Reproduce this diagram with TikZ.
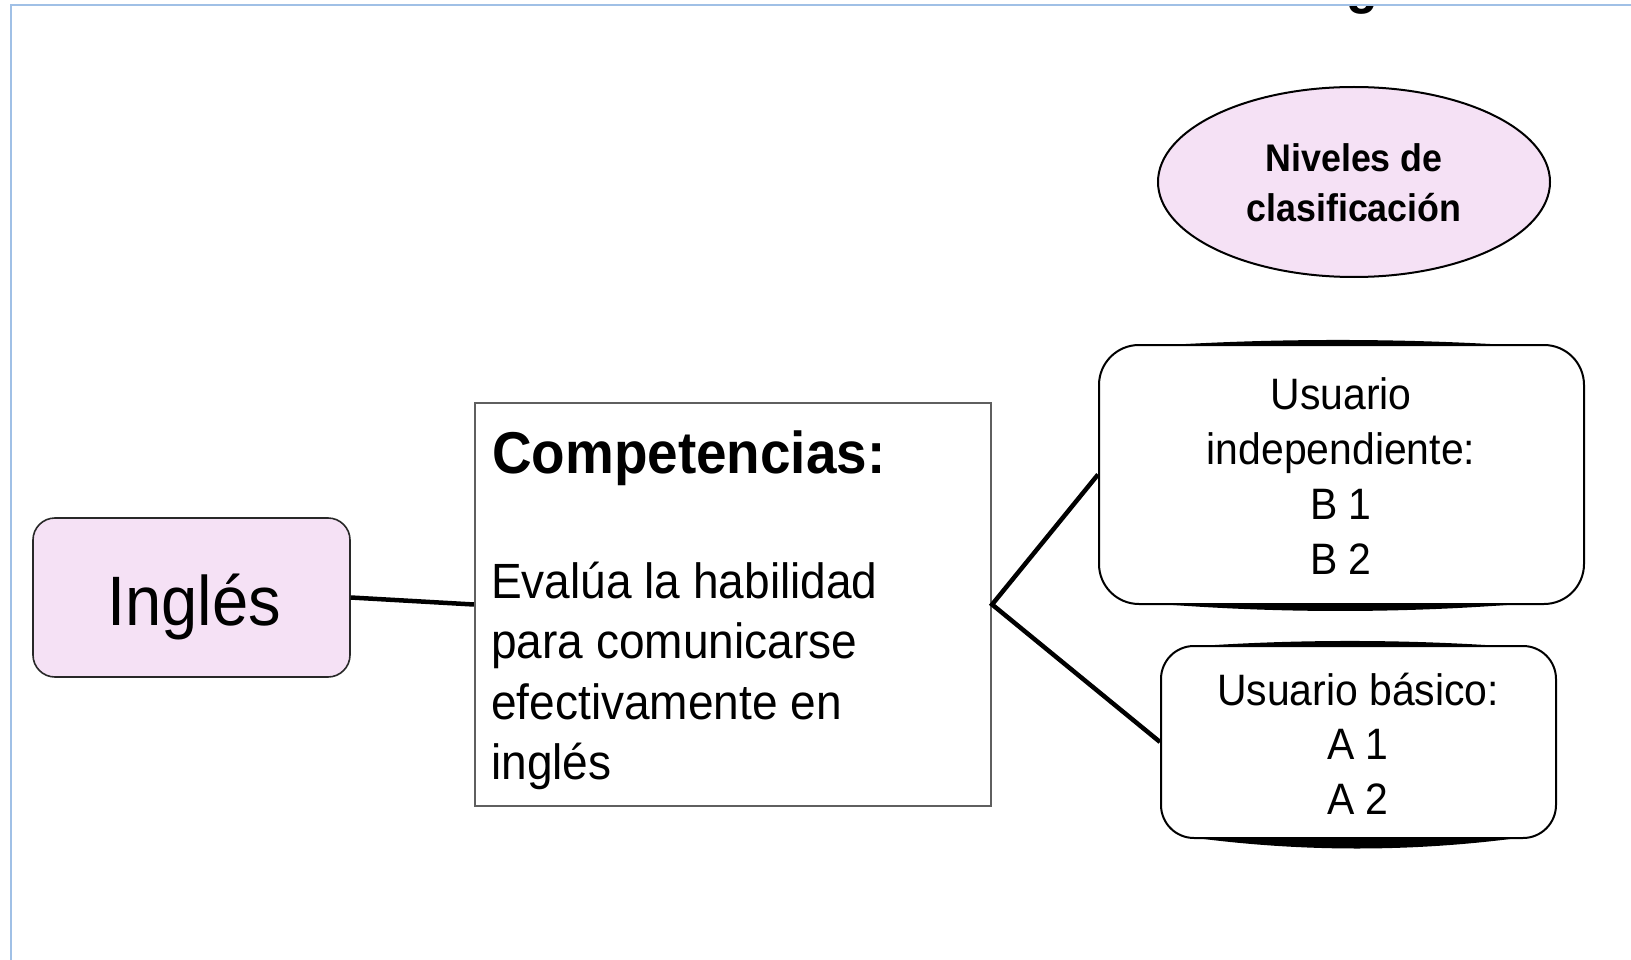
\documentclass[tikz,border=0pt]{standalone}
\usepackage{fontspec}
\setmainfont{Liberation Sans}[FakeStretch=0.93]
\usetikzlibrary{shapes.geometric}
\definecolor{pinkfill}{RGB}{245,225,245}
\definecolor{framebl}{RGB}{160,192,230}
\definecolor{compgray}{RGB}{95,95,95}
\definecolor{darkline}{RGB}{40,40,40}
\begin{document}
\begin{tikzpicture}[x=1pt,y=-1pt,
  txt/.style={inner sep=0pt, anchor=base},
  conn/.style={line width=4.5pt, black, line join=miter},
  rbox/.style={draw=black, line width=2pt, inner sep=0pt},
  lens/.style={fill=black},
  fIng/.style={font=\fontsize{70}{84}\selectfont},
  fHead/.style={font=\bfseries\fontsize{59}{70}\selectfont},
  fBody/.style={font=\fontsize{49.5}{60}\selectfont},
  fBox/.style={font=\fontsize{44}{54}\selectfont},
  fEll/.style={font=\bfseries\fontsize{38.5}{46}\selectfont}
]
\useasboundingbox (0,0) rectangle (1631,960);
\fill[white] (0,0) rectangle (1631,960);
% frame
\draw[framebl, line width=2.2pt] (11,960) -- (11,5) -- (1631,5);
% cropped title descender
\begin{scope}
  \clip (12,6.2) rectangle (1631,960);
  \node[txt, font=\bfseries\fontsize{56}{66}\selectfont] (tg) at (1362,3) {g};
\end{scope}

% shapes
\node[draw=darkline, line width=1.6pt, fill=pinkfill, rounded corners=22pt,
      minimum width=317pt, minimum height=159pt, inner sep=0pt] (ingles) at (191.5,597.5) {};
\node[draw=compgray, line width=2.2pt, minimum width=516pt, minimum height=403pt,
      inner sep=0pt] (comp) at (733,604.5) {};
\node[rbox, rounded corners=40pt, minimum width=485pt, minimum height=259pt] (ind) at (1341.5,474.5) {};
\node[rbox, rounded corners=33pt, minimum width=395pt, minimum height=192pt] (bas) at (1358.5,742) {};
\node[ellipse, draw=black, line width=2pt, fill=pinkfill, minimum width=392pt,
      minimum height=190pt, inner sep=0pt] (niv) at (1354,182) {};

% lens-shaped thickenings on the rounded boxes
\fill[lens] (1168,345) .. controls (1281,338.3) and (1395,338.3) .. (1508,345) -- cycle;
\fill[lens] (1160,604) .. controls (1280,613.3) and (1400,613.3) .. (1520,604) -- cycle;
\fill[lens] (1199,646) .. controls (1300,639.3) and (1400,639.3) .. (1501,646) -- cycle;
\fill[lens] (1196,838) .. controls (1303,852) and (1411,852) .. (1518,838) -- cycle;

% connectors
\draw[conn] (ingles.east) -- (comp.west);
\draw[conn] (ind.west) -- (comp.east) -- (bas.west);

% texts
\node[txt, fIng] (tIng) at (194,625) {Inglés};
\node[txt, anchor=base west, fHead] (tComp) at (492,473) {Competencias:};
\node[txt, anchor=base west, fBody] (b1) at (491,598) {Evalúa la habilidad};
\node[txt, anchor=base west, fBody] (b2) at (491,658) {para comunicarse};
\node[txt, anchor=base west, fBody] (b3) at (491,719) {efectivamente en};
\node[txt, anchor=base west, fBody] (b4) at (491,779) {inglés};

\node[txt, fBox] (u1) at (1341,409) {Usuario};
\node[txt, fBox] (u2) at (1341,464) {independiente:};
\node[txt, fBox] (u3) at (1341,519) {B 1};
\node[txt, fBox] (u4) at (1341,574) {B 2};

\node[txt, fBox] (v1) at (1358,705) {Usuario básico:};
\node[txt, fBox] (v2) at (1358,759) {A 1};
\node[txt, fBox] (v3) at (1358,814) {A 2};

\node[txt, fEll] (n1) at (1354,172) {Niveles de};
\node[txt, fEll] (n2) at (1354,222) {clasificación};
\end{tikzpicture}
\end{document}
